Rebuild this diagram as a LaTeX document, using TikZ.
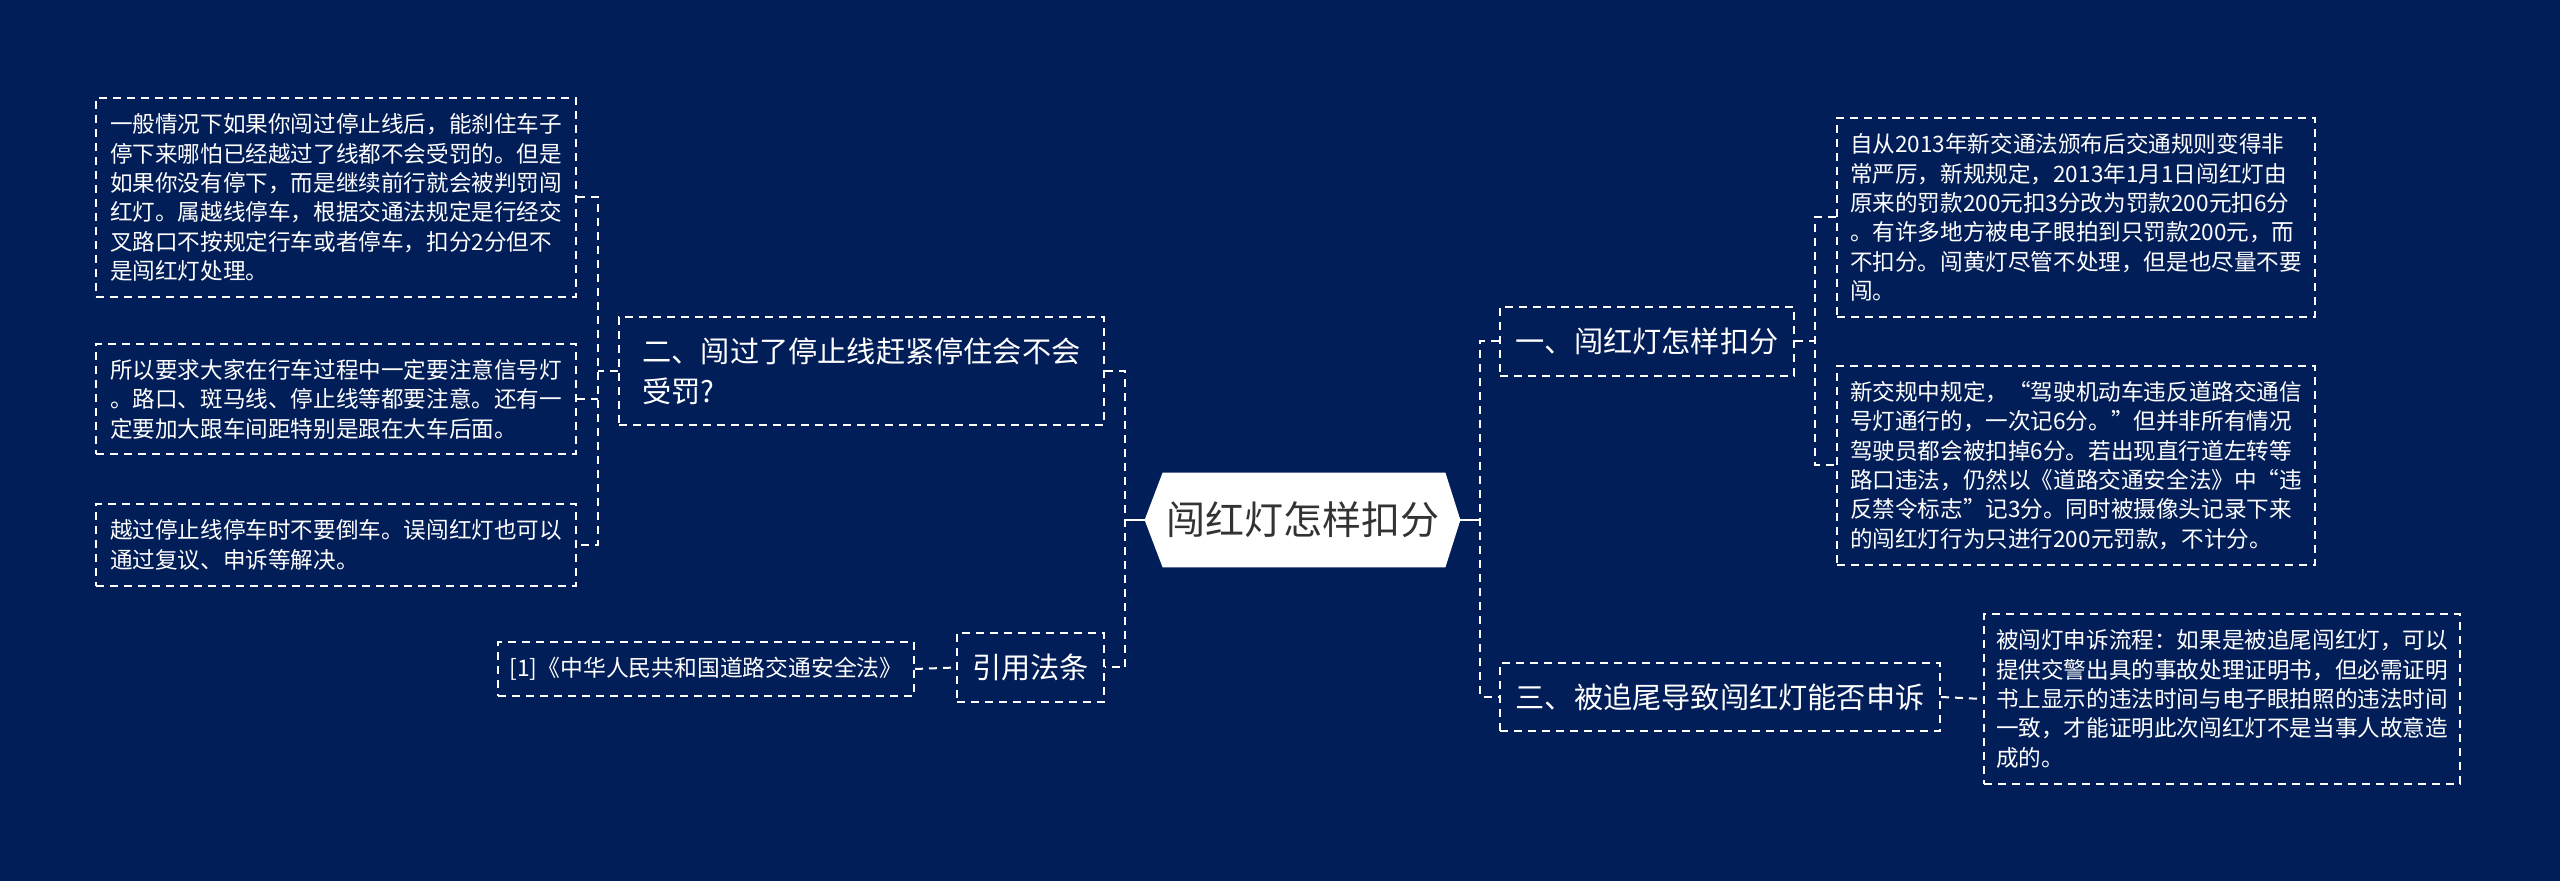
\documentclass[tikz,border=0pt]{standalone}
\usepackage{fontspec}
\setmainfont{Noto Sans CJK SC}
\usetikzlibrary{backgrounds}
\definecolor{bg}{RGB}{2,30,88}
\definecolor{roottext}{RGB}{51,51,51}
\begin{document}
\begin{tikzpicture}[x=0.5pt,y=-0.5pt,
  line/.style={draw=white, line width=1pt, dash pattern=on 4pt off 3pt},
  box/.style={line, text=white, inner sep=0pt, align=left},
  leaf/.style={box, font=\fontsize{11.3pt}{14.7pt}\selectfont},
  topic/.style={box, font=\fontsize{14.6pt}{20pt}\selectfont},
  conn/.style={line},
  solidconn/.style={draw=white, line width=1pt},
  rootnode/.style={inner sep=0pt, text=roottext, font=\fontsize{19.5pt}{24pt}\selectfont}
]
\useasboundingbox (0,0) rectangle (2560,881);

% root
\node[rootnode, minimum width=157.5pt, minimum height=47pt] (root) at (1302.5,520) {闯红灯怎样扣分};

% left branch
\node[topic, minimum width=242.5pt, minimum height=54pt] (B2) at (861.5,371) {二、闯过了停止线赶紧停住会不会\\受罚?};
\node[leaf, minimum width=240pt, minimum height=99.5pt] (L1) at (336,197.5) {一般情况下如果你闯过停止线后，能刹住车子\\停下来哪怕已经越过了线都不会受罚的。但是\\如果你没有停下，而是继续前行就会被判罚闯\\红灯。属越线停车，根据交通法规定是行经交\\叉路口不按规定行车或者停车，扣分2分但不\\是闯红灯处理。};
\node[leaf, minimum width=240pt, minimum height=55pt] (L2) at (336,399) {所以要求大家在行车过程中一定要注意信号灯\\。路口、斑马线、停止线等都要注意。还有一\\定要加大跟车间距特别是跟在大车后面。};
\node[leaf, minimum width=240pt, minimum height=41pt] (L3) at (336,545) {越过停止线停车时不要倒车。误闯红灯也可以\\通过复议、申诉等解决。};
\node[topic, minimum width=73.5pt, minimum height=34.5pt] (cite) at (1030.5,667.5) {引用法条};
\node[leaf, font=\fontsize{11.4pt}{14.7pt}\selectfont, minimum width=208pt, minimum height=27pt] (law) at (706,669) {[1]《中华人民共和国道路交通安全法》};

% right branch
\node[topic, minimum width=147pt, minimum height=34.5pt] (B1) at (1647,341.5) {一、闯红灯怎样扣分};
\node[topic, minimum width=220pt, minimum height=34pt] (B3) at (1720,697) {三、被追尾导致闯红灯能否申诉};
\node[leaf, minimum width=239pt, minimum height=99.5pt] (R1) at (2076,217.5) {自从2013年新交通法颁布后交通规则变得非\\常严厉，新规规定，2013年1月1日闯红灯由\\原来的罚款200元扣3分改为罚款200元扣6分\\。有许多地方被电子眼拍到只罚款200元，而\\不扣分。闯黄灯尽管不处理，但是也尽量不要\\闯。};
\node[leaf, minimum width=239pt, minimum height=99.5pt] (R2) at (2076,465.5) {新交规中规定，“驾驶机动车违反道路交通信\\号灯通行的，一次记6分。”但并非所有情况\\驾驶员都会被扣掉6分。若出现直行道左转等\\路口违法，仍然以《道路交通安全法》中“违\\反禁令标志”记3分。同时被摄像头记录下来\\的闯红灯行为只进行200元罚款，不计分。};
\node[leaf, minimum width=238pt, minimum height=85pt] (R3) at (2222,699) {被闯灯申诉流程：如果是被追尾闯红灯，可以\\提供交警出具的事故处理证明书，但必需证明\\书上显示的违法时间与电子眼拍照的违法时间\\一致，才能证明此次闯红灯不是当事人故意造\\成的。};

% junctions
\coordinate (jl) at (1125,520);
\coordinate (jr) at (1480,520);
\coordinate (jl2) at (598,371);
\coordinate (jr2) at (1815,341.5);

% connectors
\draw[solidconn] (root.west) -- (jl);
\draw[solidconn] (root.east) -- (jr);
\draw[conn] (B2.east) -| (jl) |- (cite.east);
\draw[conn] (B1.west) -| (jr) |- (B3.west);
\draw[conn] (B2.west) -- (jl2);
\draw[conn] (L1.east) -| (jl2) |- (L3.east);
\draw[conn] (L2.east) -- (L2.east -| jl2);
\draw[conn] (law.east) -- (cite.west);
\draw[conn] (B1.east) -- (jr2);
\draw[conn] (R1.west) -| (jr2) |- (R2.west);
\draw[conn] (B3.east) -- (R3.west);

\begin{pgfonlayer}{background}
\fill[bg] (0,0) rectangle (2560,881);
\fill[white] (root.west) -- ([xshift=9pt]root.north west) -- ([xshift=-7.5pt]root.north east) -- (root.east) -- ([xshift=-7.5pt]root.south east) -- ([xshift=9pt]root.south west) -- cycle;
\end{pgfonlayer}
\end{tikzpicture}
\end{document}
